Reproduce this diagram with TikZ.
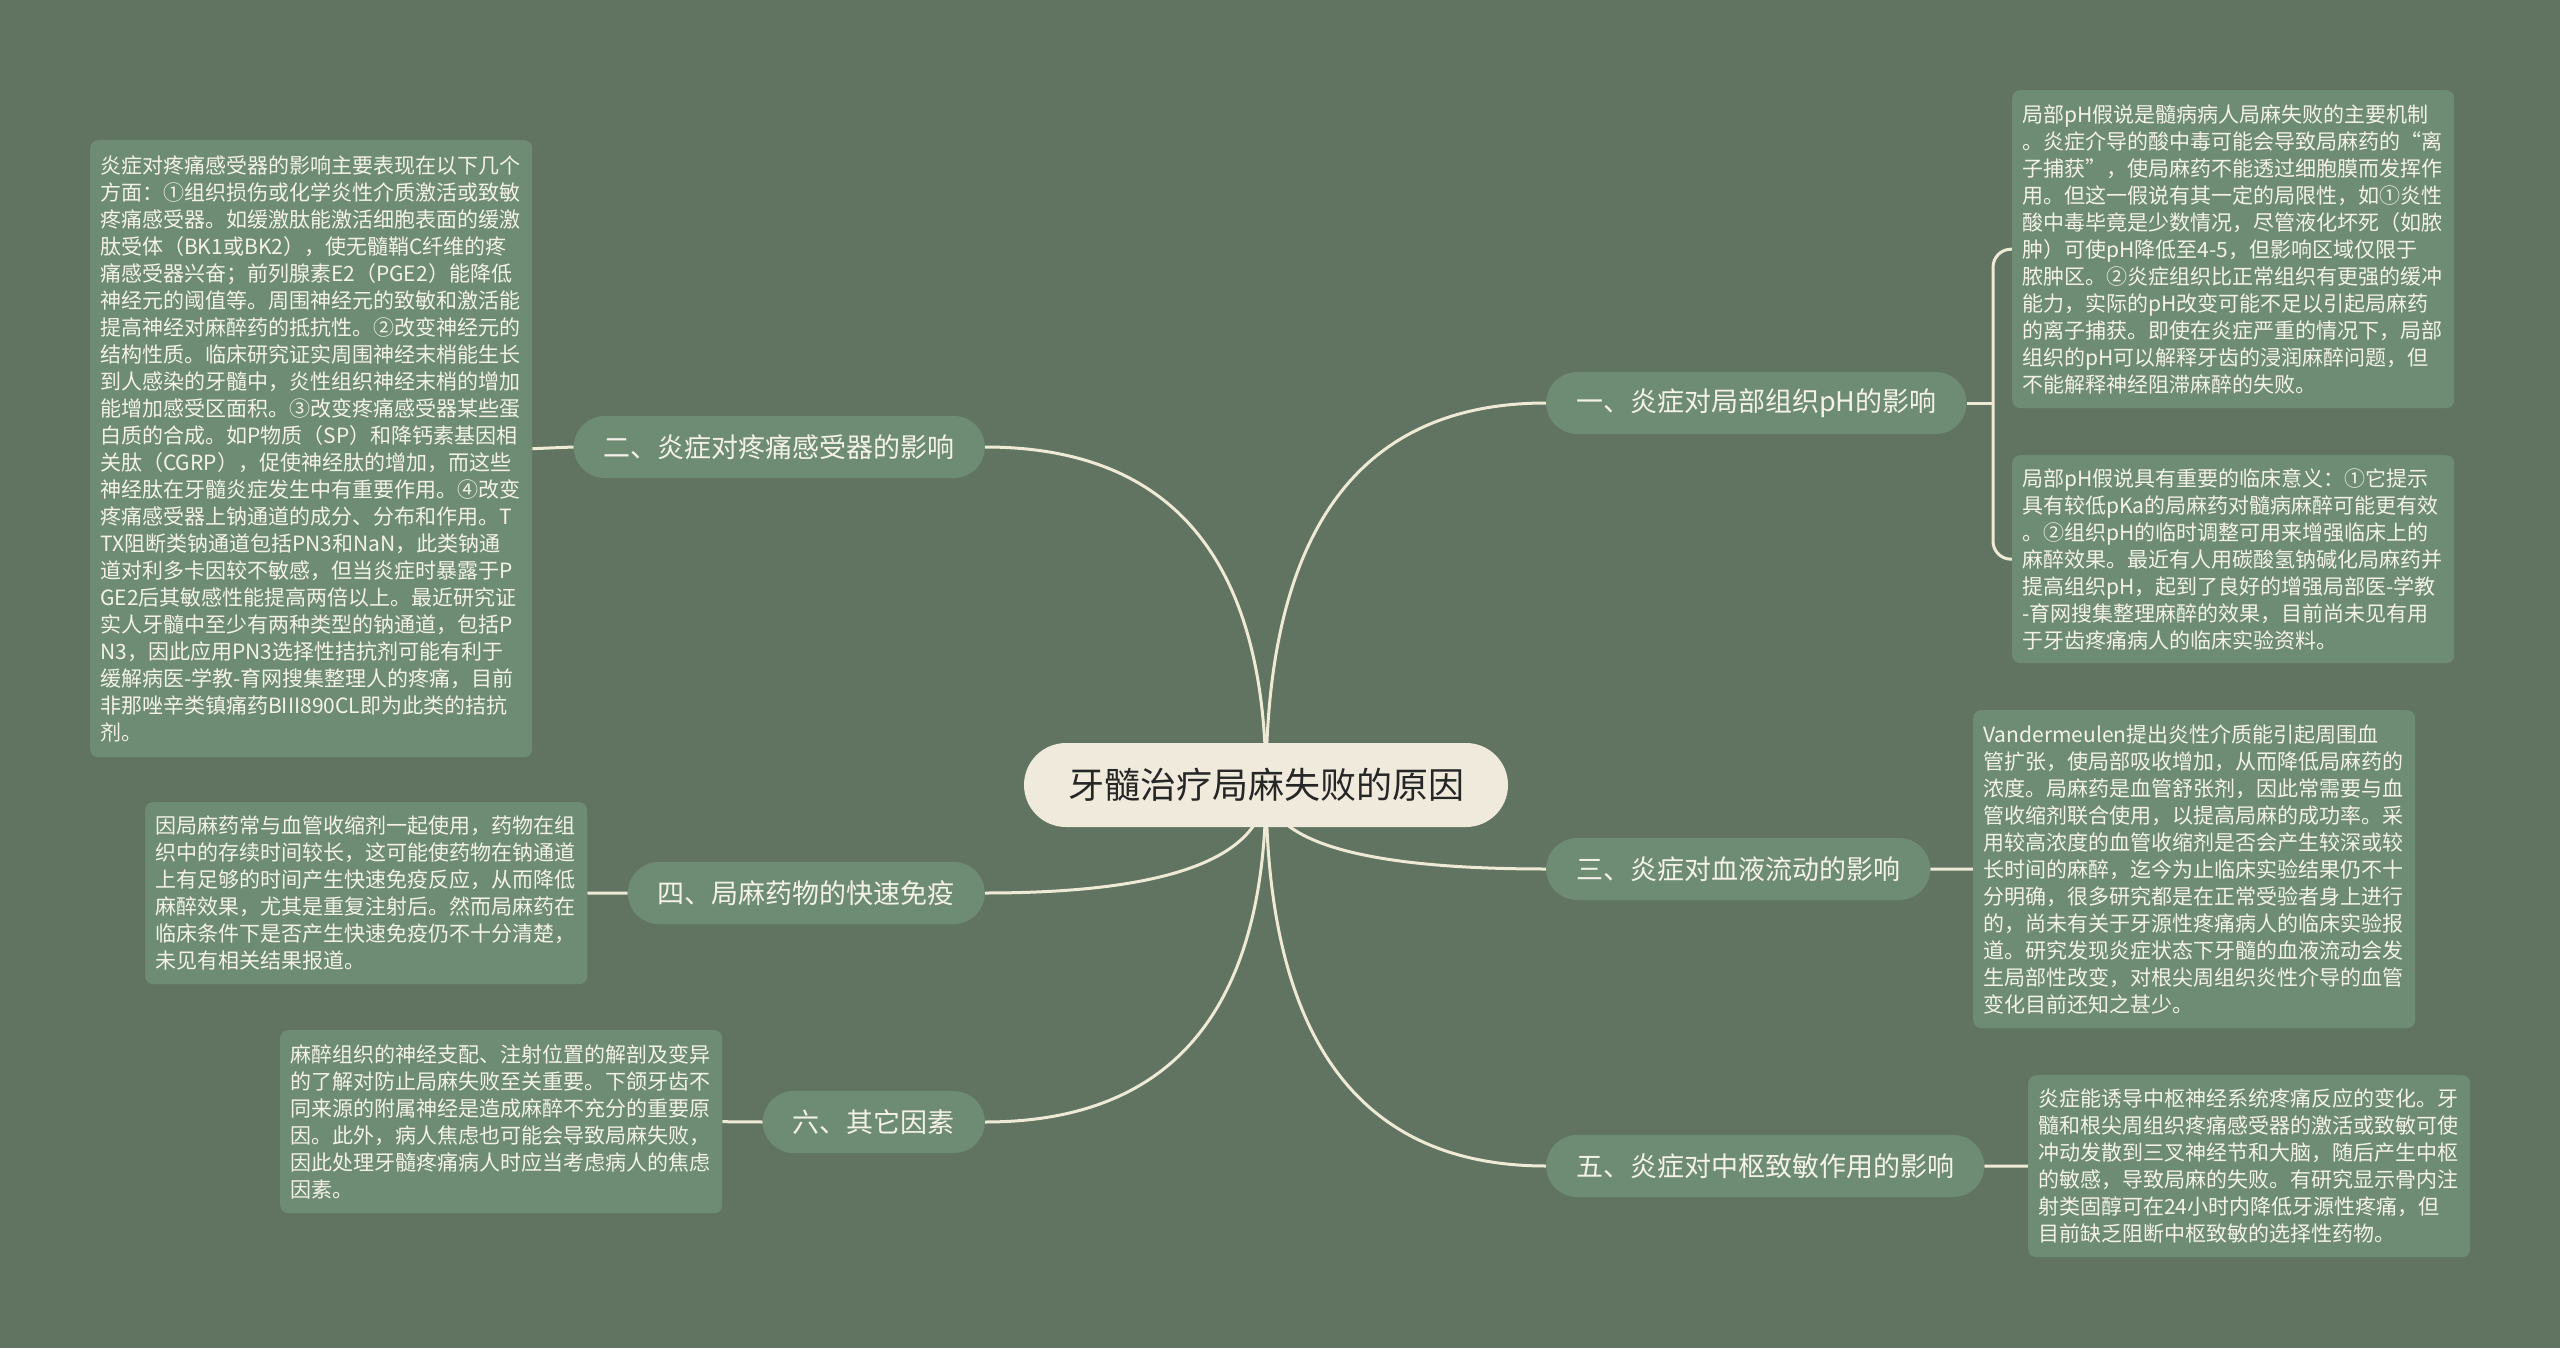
\documentclass[tikz,border=0pt]{standalone}
\usepackage{fontspec}
\setmainfont{Noto Sans CJK SC}
\usetikzlibrary{calc}
\definecolor{bgc}{HTML}{617462}
\definecolor{nodefill}{HTML}{6E8C74}
\definecolor{txtc}{HTML}{F4F2E8}
\definecolor{linec}{HTML}{EEEAD6}
\definecolor{rootfill}{HTML}{EFEADB}
\definecolor{roottxt}{HTML}{262626}
\pgfdeclarelayer{back}
\pgfdeclarelayer{lines}
\pgfsetlayers{back,lines,main}
\begin{document}
\begin{tikzpicture}[x=1pt,y=-1pt,
  rootnode/.style={fill=rootfill, text=roottxt, font=\fontsize{36pt}{40pt}\selectfont,
    rounded corners=42pt, minimum height=84pt, inner xsep=44pt, inner ysep=0pt},
  branch/.style={fill=nodefill, text=txtc, font=\fontsize{27pt}{30pt}\selectfont,
    rounded corners=31pt, minimum height=62pt, inner xsep=30pt, inner ysep=0pt},
  leaf/.style={fill=nodefill, text=txtc, font=\fontsize{21pt}{27pt}\selectfont,
    rounded corners=8pt, inner xsep=10pt, inner ysep=0pt, text width=422pt,
    align=left, anchor=north west},
  conn/.style={draw=linec, line width=3pt},
  quadcurve/.style={to path={.. controls ($(\tikztostart)!0.6667!(\tikztostart|-\tikztotarget)$) and ($(\tikztotarget)!0.6667!(\tikztostart|-\tikztotarget)$) .. (\tikztotarget)}}
]
\begin{pgfonlayer}{back}
\fill[bgc] (0,0) rectangle (2560,1348);
\end{pgfonlayer}
\useasboundingbox (0,0) rectangle (2560,1348);

% root
\node[rootnode] (root) at (1266,785) {牙髓治疗局麻失败的原因};

% branches right
\node[branch, anchor=west] (b1) at (1546,403) {一、炎症对局部组织pH的影响};
\node[branch, anchor=west] (b3) at (1546,869) {三、炎症对血液流动的影响};
\node[branch, anchor=west] (b5) at (1546,1166) {五、炎症对中枢致敏作用的影响};
% branches left
\node[branch, anchor=east] (b2) at (985,447) {二、炎症对疼痛感受器的影响};
\node[branch, anchor=east] (b4) at (985,893) {四、局麻药物的快速免疫};
\node[branch, anchor=east] (b6) at (985,1122) {六、其它因素};

% leaves
\node[leaf, minimum height=617pt] (l2) at (90,140) {炎症对疼痛感受器的影响主要表现在以下几个\\
方面：①组织损伤或化学炎性介质激活或致敏\\
疼痛感受器。如缓激肽能激活细胞表面的缓激\\
肽受体（BK1或BK2），使无髓鞘C纤维的疼\\
痛感受器兴奋；前列腺素E2（PGE2）能降低\\
神经元的阈值等。周围神经元的致敏和激活能\\
提高神经对麻醉药的抵抗性。②改变神经元的\\
结构性质。临床研究证实周围神经末梢能生长\\
到人感染的牙髓中，炎性组织神经末梢的增加\\
能增加感受区面积。③改变疼痛感受器某些蛋\\
白质的合成。如P物质（SP）和降钙素基因相\\
关肽（CGRP），促使神经肽的增加，而这些\\
神经肽在牙髓炎症发生中有重要作用。④改变\\
疼痛感受器上钠通道的成分、分布和作用。T\\
TX阻断类钠通道包括PN3和NaN，此类钠通\\
道对利多卡因较不敏感，但当炎症时暴露于P\\
GE2后其敏感性能提高两倍以上。最近研究证\\
实人牙髓中至少有两种类型的钠通道，包括P\\
N3，因此应用PN3选择性拮抗剂可能有利于\\
缓解病医-学教-育网搜集整理人的疼痛，目前\\
非那唑辛类镇痛药BIII890CL即为此类的拮抗\\
剂。};

\node[leaf, minimum height=182pt] (l4) at (145,802) {因局麻药常与血管收缩剂一起使用，药物在组\\
织中的存续时间较长，这可能使药物在钠通道\\
上有足够的时间产生快速免疫反应，从而降低\\
麻醉效果，尤其是重复注射后。然而局麻药在\\
临床条件下是否产生快速免疫仍不十分清楚，\\
未见有相关结果报道。};

\node[leaf, minimum height=183pt] (l6) at (280,1030) {麻醉组织的神经支配、注射位置的解剖及变异\\
的了解对防止局麻失败至关重要。下颌牙齿不\\
同来源的附属神经是造成麻醉不充分的重要原\\
因。此外，病人焦虑也可能会导致局麻失败，\\
因此处理牙髓疼痛病人时应当考虑病人的焦虑\\
因素。};

\node[leaf, minimum height=318pt] (l1a) at (2012,90) {局部pH假说是髓病病人局麻失败的主要机制\\
。炎症介导的酸中毒可能会导致局麻药的“离\\
子捕获”，使局麻药不能透过细胞膜而发挥作\\
用。但这一假说有其一定的局限性，如①炎性\\
酸中毒毕竟是少数情况，尽管液化坏死（如脓\\
肿）可使pH降低至4-5，但影响区域仅限于\\
脓肿区。②炎症组织比正常组织有更强的缓冲\\
能力，实际的pH改变可能不足以引起局麻药\\
的离子捕获。即使在炎症严重的情况下，局部\\
组织的pH可以解释牙齿的浸润麻醉问题，但\\
不能解释神经阻滞麻醉的失败。};

\node[leaf, minimum height=208pt] (l1b) at (2012,455) {局部pH假说具有重要的临床意义：①它提示\\
具有较低pKa的局麻药对髓病麻醉可能更有效\\
。②组织pH的临时调整可用来增强临床上的\\
麻醉效果。最近有人用碳酸氢钠碱化局麻药并\\
提高组织pH，起到了良好的增强局部医-学教\\
-育网搜集整理麻醉的效果，目前尚未见有用\\
于牙齿疼痛病人的临床实验资料。};

\node[leaf, minimum height=318pt] (l3) at (1973,710) {Vandermeulen提出炎性介质能引起周围血\\
管扩张，使局部吸收增加，从而降低局麻药的\\
浓度。局麻药是血管舒张剂，因此常需要与血\\
管收缩剂联合使用，以提高局麻的成功率。采\\
用较高浓度的血管收缩剂是否会产生较深或较\\
长时间的麻醉，迄今为止临床实验结果仍不十\\
分明确，很多研究都是在正常受验者身上进行\\
的，尚未有关于牙源性疼痛病人的临床实验报\\
道。研究发现炎症状态下牙髓的血液流动会发\\
生局部性改变，对根尖周组织炎性介导的血管\\
变化目前还知之甚少。};

\node[leaf, minimum height=182pt] (l5) at (2028,1075) {炎症能诱导中枢神经系统疼痛反应的变化。牙\\
髓和根尖周组织疼痛感受器的激活或致敏可使\\
冲动发散到三叉神经节和大脑，随后产生中枢\\
的敏感，导致局麻的失败。有研究显示骨内注\\
射类固醇可在24小时内降低牙源性疼痛，但\\
目前缺乏阻断中枢致敏的选择性药物。};

% junction for branch 1
\path (l1a.west) ++(-19,0) coordinate (jt);
\coordinate (j1) at (jt |- b1.east);

\begin{pgfonlayer}{lines}
\draw[conn] (root.center) to[quadcurve] (b1.west);
\draw[conn] (root.center) to[quadcurve] (b3.west);
\draw[conn] (root.center) to[quadcurve] (b5.west);
\draw[conn] (root.center) to[quadcurve] (b2.east);
\draw[conn] (root.center) to[quadcurve] (b4.east);
\draw[conn] (root.center) to[quadcurve] (b6.east);
\draw[conn] (b2.west) -- (l2.east);
\draw[conn] (b4.west) -- (l4.east);
\draw[conn] (b6.west) -- (l6.east);
\draw[conn] (b3.east) -- (l3.west);
\draw[conn] (b5.east) -- (l5.west);
\draw[conn] (b1.east) -- (j1);
\draw[conn, rounded corners=18pt] (j1) |- (l1a.west);
\draw[conn, rounded corners=18pt] (j1) |- (l1b.west);
\end{pgfonlayer}
\end{tikzpicture}
\end{document}
